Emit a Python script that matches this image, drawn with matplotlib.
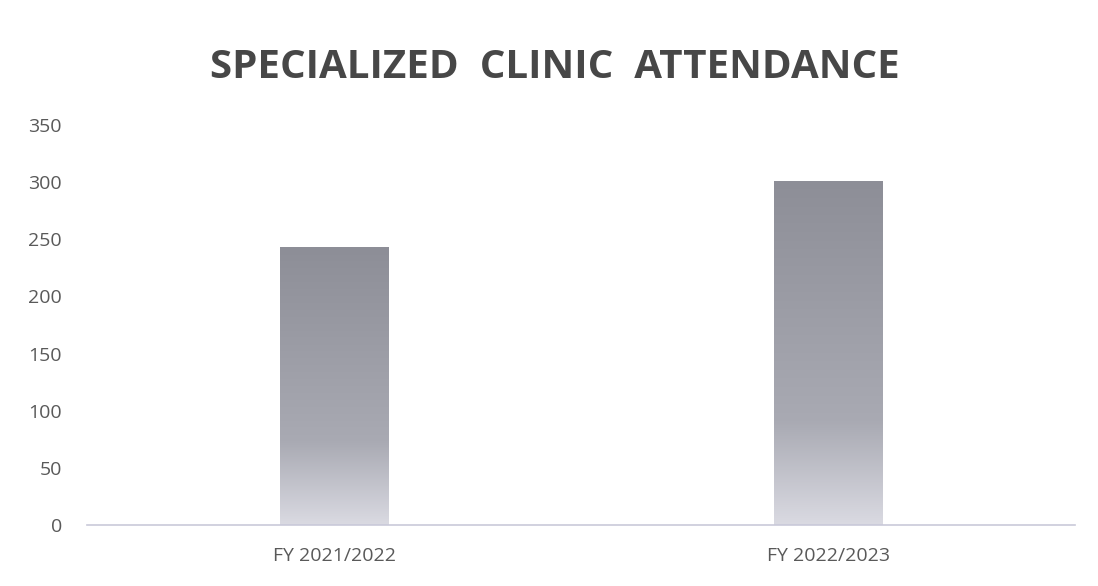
import numpy as np
import matplotlib
matplotlib.use('Agg')
import matplotlib.pyplot as plt
from matplotlib.colors import LinearSegmentedColormap

# data
categories = ['FY 2021/2022', 'FY 2022/2023']
attendance = [243, 301]
y_ticks = [0, 50, 100, 150, 200, 250, 300, 350]

plt.rcParams['font.family'] = ['Open Sans', 'DejaVu Sans']

fig = plt.figure(figsize=(10.98, 5.86), dpi=100)
ax = fig.add_axes([0.0792, 0.104, 0.9, 0.6826])

x = np.arange(len(categories))
bars = ax.bar(x, attendance, width=0.22, color='none', edgecolor='none')

# vertical grey gradient (dark at top, pale at bottom)
cmap = LinearSegmentedColormap.from_list(
    'fade', [(0.0, '#dadae2'), (0.3, '#a9aab3'), (1.0, '#8d8e97')])
grad = np.linspace(0, 1, 256).reshape(-1, 1)
for b in bars:
    x0, y0 = b.get_x(), b.get_y()
    w, h = b.get_width(), b.get_height()
    im = ax.imshow(grad, cmap=cmap, origin='lower', aspect='auto',
                   extent=[x0, x0 + w, y0, y0 + h], zorder=2)
    im.set_clip_path(b)

ax.set_xlim(-0.5, len(categories) - 0.5)
ax.set_ylim(0, 350)
ax.set_yticks(y_ticks)
ax.set_xticks(x)
ax.set_xticklabels(categories)
ax.tick_params(axis='both', length=0, labelsize=14, colors='#595959')
ax.tick_params(axis='x', pad=16)
ax.tick_params(axis='y', pad=18)

for s in ['top', 'right', 'left']:
    ax.spines[s].set_visible(False)
ax.spines['bottom'].set_color('#c9c9d9')
ax.spines['bottom'].set_linewidth(1.2)

fig.text(0.505, 0.885, 'SPECIALIZED  CLINIC  ATTENDANCE', ha='center', va='center',
         fontsize=29, fontweight='bold', color='#474747')

fig.savefig('out.png', dpi=100)
